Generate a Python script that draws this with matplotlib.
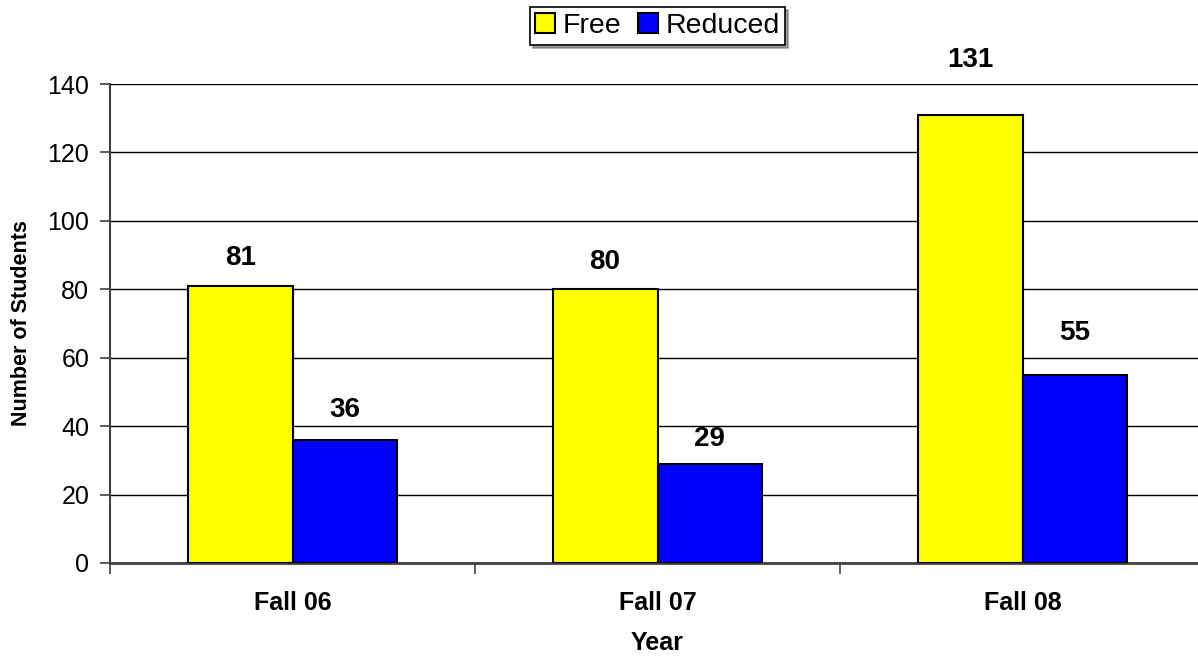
import numpy as np
import matplotlib
matplotlib.use("Agg")
import matplotlib.pyplot as plt

plt.rcParams['font.family'] = ['Liberation Sans', 'DejaVu Sans']

# datos
anios = ["Fall 06", "Fall 07", "Fall 08"]
gratis = [81, 80, 131]
reducido = [36, 29, 55]

# separacion (en puntos) de cada etiqueta sobre su barra
sep_gratis = [20, 19.5, 39.5]
sep_reducido = [21.5, 17.5, 30]

fig = plt.figure(figsize=(11.98, 6.57), dpi=100)
ax = fig.add_axes([110 / 1198, 1 - 563 / 657, 1095 / 1198, (563 - 84) / 657])

x = np.arange(len(anios))
ancho = 0.287

b1 = ax.bar(x - ancho / 2, gratis, ancho, color="#FFFF00", edgecolor="black", linewidth=1.5, label="Free", zorder=3)
b2 = ax.bar(x + ancho / 2, reducido, ancho, color="#0000FF", edgecolor="black", linewidth=1.5, label="Reduced", zorder=3)

# etiquetas de valor sobre las barras
for barras, seps in ((b1, sep_gratis), (b2, sep_reducido)):
    for b, s in zip(barras, seps):
        ax.annotate(str(int(b.get_height())),
                    (b.get_x() + b.get_width() / 2, b.get_height()),
                    xytext=(0, s), textcoords="offset points",
                    ha="center", va="center", fontsize=20, fontweight="bold")

ax.set_xlim(-0.5, 2.5)
ax.set_ylim(0, 140)
ax.set_yticks(range(0, 141, 20))
ax.tick_params(axis="y", labelsize=18, length=7, width=1.2, color="#404040", pad=8)

# marcas del eje x en los limites de categoria
ax.set_xticks([-0.5, 0.5, 1.5, 2.5])
ax.set_xticklabels([])
ax.set_xticks(x, minor=True)
ax.set_xticklabels(anios, minor=True, fontsize=18, fontweight="bold")
ax.tick_params(axis="x", which="major", length=8, width=1.2, color="#404040")
ax.tick_params(axis="x", which="minor", length=0, pad=20)

ax.grid(axis="y", color="black", linewidth=1, zorder=0)
ax.set_axisbelow(True)

for lado in ("top", "right"):
    ax.spines[lado].set_visible(False)
ax.spines["left"].set_color("#404040")
ax.spines["left"].set_linewidth(1.5)
ax.spines["bottom"].set_color("#404040")
ax.spines["bottom"].set_linewidth(2)

ax.set_ylabel("Number of Students", fontsize=15.5, fontweight="bold", labelpad=11)
ax.set_xlabel("Year", fontsize=18, fontweight="bold", labelpad=12)

ley = ax.legend(loc="upper center", bbox_to_anchor=(0.5, 1.16), ncol=2,
                fontsize=20.5, frameon=True, fancybox=False, shadow=True,
                edgecolor="black", handlelength=0.7, handleheight=0.7,
                handletextpad=0.25, columnspacing=0.6, borderpad=0.2,
                borderaxespad=0)
ley.get_frame().set_linewidth(1.2)

plt.savefig("out.png", dpi=100)
